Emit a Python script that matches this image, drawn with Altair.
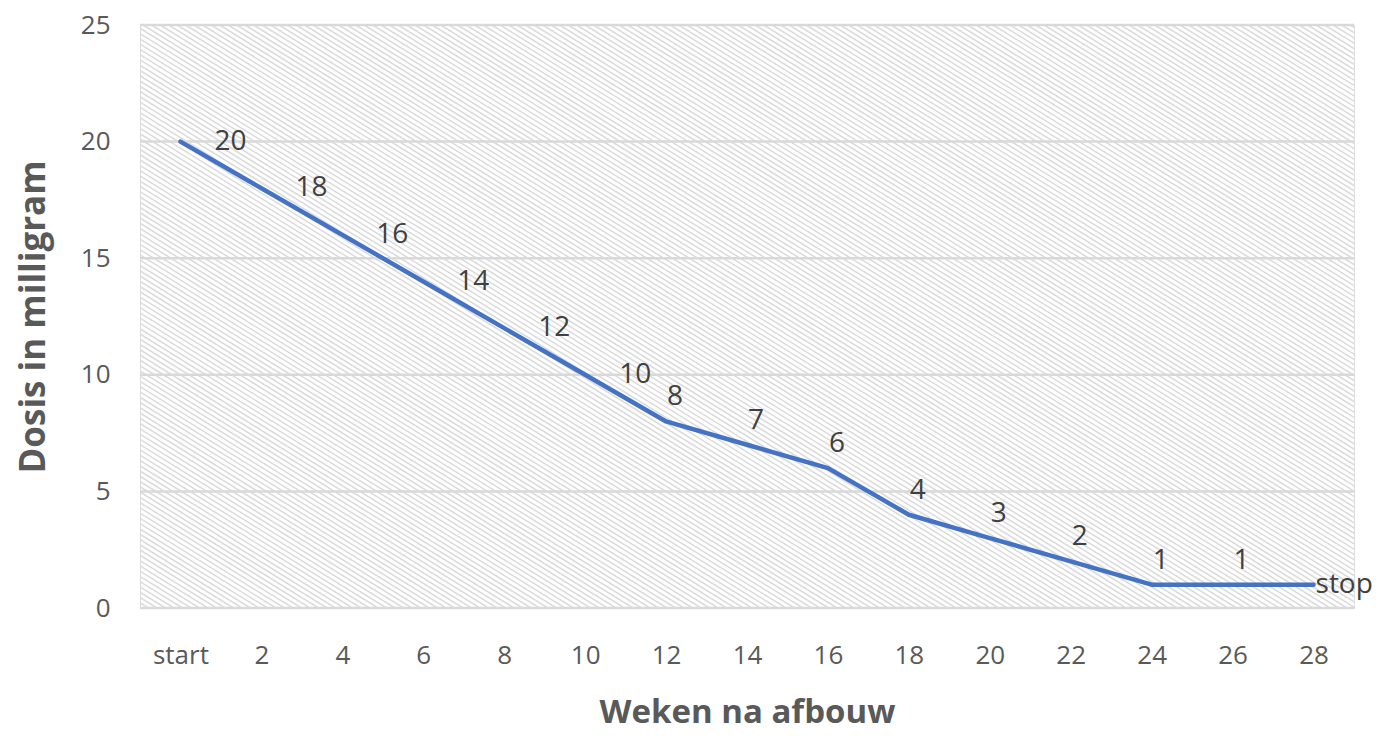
import altair as alt
import numpy as np
import pandas as pd

# ---- data ----
weeks = ["start", "2", "4", "6", "8", "10", "12", "14", "16", "18", "20", "22", "24", "26", "28"]
dose = [20, 18, 16, 14, 12, 10, 8, 7, 6, 4, 3, 2, 1, 1, 1]
point_labels = ["20", "18", "16", "14", "12", "10", "8", "7", "6", "4", "3", "2", "1", "1", "stop"]
label_place = ["right"] * 6 + ["above"] * 8 + ["end"]
y_ticks = [0, 5, 10, 15, 20, 25]

W, H = 1214, 583
FONT = "Open Sans"
GREY = "#595959"

df = pd.DataFrame({"idx": list(range(len(weeks))), "week": weeks, "dose": dose,
                   "label": point_labels, "place": label_place})
grid_df = pd.DataFrame({"dose": y_ticks})

# decorative diagonal hatch of the plot background (Excel pattern fill)
n = len(weeks)
x_per_px = n / W
run_px = H / 0.62
starts = np.arange(-0.5 - run_px * x_per_px, n - 0.5, 8.5 * x_per_px)
hatch_df = pd.DataFrame({"idx": starts, "idx2": starts + run_px * x_per_px,
                         "dose": 25.0, "dose2": 0.0})

label_expr = "[" + ",".join(f"'{w}'" for w in weeks) + "][datum.value]"

x_scale = alt.Scale(domain=[-0.5, n - 0.5], nice=False, zero=False)
y_scale = alt.Scale(domain=[0, 25], nice=False)

x_axis = alt.Axis(values=list(range(n)), labelExpr=label_expr, grid=False, domain=False,
                  ticks=False, labelPadding=34, labelFontSize=26, labelColor=GREY,
                  labelFont=FONT, title="Weken na afbouw", titleFont=FONT,
                  titleFontSize=33, titleFontWeight="bold", titleColor=GREY, titlePadding=28)
y_axis = alt.Axis(values=y_ticks, grid=False, domain=False, ticks=False, labelPadding=30,
                  labelFontSize=26, labelColor=GREY, labelFont=FONT,
                  title="Dosis in milligram", titleFont=FONT, titleFontSize=35,
                  titleFontWeight="bold", titleColor=GREY, titlePadding=29)

X = alt.X("idx:Q", scale=x_scale, axis=x_axis)
Y = alt.Y("dose:Q", scale=y_scale, axis=y_axis)

hatch = alt.Chart(hatch_df).mark_rule(clip=True, color="#dcdcdc", strokeWidth=1.6).encode(
    x=X, x2="idx2:Q", y=Y, y2="dose2:Q")

grid = alt.Chart(grid_df).mark_rule(color="#d9d9d9", strokeWidth=2.5).encode(y=Y)

line = alt.Chart(df).mark_line(color="#4472C4", strokeWidth=4.5, strokeJoin="round",
                               strokeCap="round").encode(x=X, y=Y)

base_text = dict(fontSize=28, color="#404040", font=FONT)
lab_right = alt.Chart(df).transform_filter(alt.datum.place == "right").mark_text(
    align="left", baseline="middle", dx=34, **base_text).encode(x=X, y=Y, text="label:N")
lab_above = alt.Chart(df).transform_filter(alt.datum.place == "above").mark_text(
    align="center", baseline="middle", dx=9, dy=-24, **base_text).encode(x=X, y=Y, text="label:N")
lab_end = alt.Chart(df).transform_filter(alt.datum.place == "end").mark_text(
    align="left", baseline="middle", dx=2, **base_text).encode(x=X, y=Y, text="label:N")

chart = alt.layer(hatch, grid, line, lab_right, lab_above, lab_end).properties(
    width=W, height=H,
    padding={"left": 8, "top": 4, "right": 5, "bottom": 5},
).configure_view(stroke=None).configure(background="white")

chart.save("out.html", embed_options={"renderer": "svg", "actions": False})
